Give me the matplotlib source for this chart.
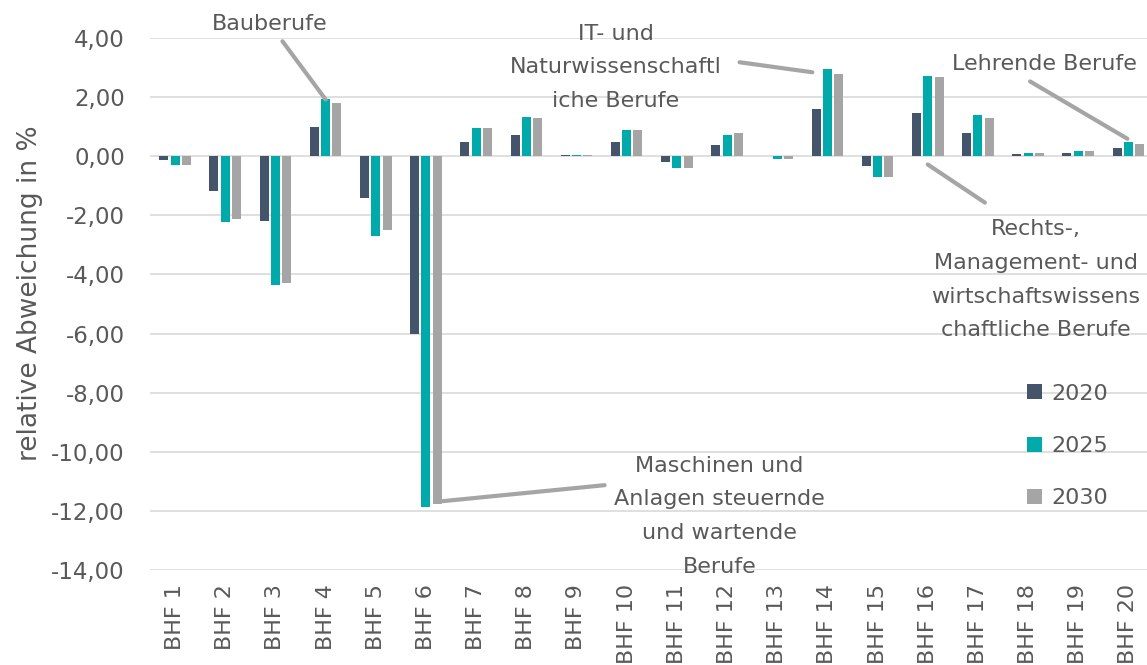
import numpy as np
from matplotlib import pyplot as plt
from matplotlib.ticker import FuncFormatter

categories = ['BHF %d' % i for i in range(1, 21)]
years = ['2020', '2025', '2030']
v2020 = [-0.14, -1.16, -2.19, 0.99, -1.41, -6.01, 0.49, 0.73, 0.05, 0.49,
         -0.19, 0.37, 0.01, 1.60, -0.34, 1.46, 0.79, 0.06, 0.11, 0.27]
v2025 = [-0.29, -2.24, -4.35, 1.92, -2.70, -11.87, 0.94, 1.34, 0.05, 0.89,
         -0.40, 0.72, -0.08, 2.94, -0.70, 2.73, 1.40, 0.11, 0.18, 0.49]
v2030 = [-0.29, -2.14, -4.28, 1.81, -2.50, -11.77, 0.94, 1.30, 0.05, 0.89,
         -0.40, 0.79, -0.08, 2.78, -0.70, 2.68, 1.30, 0.11, 0.17, 0.42]
colors = ['#44546A', '#00A9AA', '#A5A5A5']

plt.rcParams['font.family'] = ['DejaVu Sans']
text_color = '#595959'
line_color = '#A5A5A5'
fs = 16

fig = plt.figure(figsize=(11.47, 6.65), dpi=100)
ax = fig.add_axes([150 / 1147, 1 - 570 / 665, 1 - 150 / 1147, (570 - 38) / 665])

x = np.arange(len(categories))
width = 0.18
step = 0.225
for k, (vals, col, lab) in enumerate(zip([v2020, v2025, v2030], colors, years)):
    ax.bar(x + (k - 1) * step, vals, width, color=col, label=lab, zorder=3)

ax.set_ylim(-14, 4)
ax.set_xlim(-0.5, 19.37)
ax.set_yticks(np.arange(-14, 5, 2))
ax.yaxis.set_major_formatter(FuncFormatter(lambda v, p: ('%.2f' % v).replace('.', ',')))
ax.grid(axis='y', color='#D9D9D9', linewidth=1.2, zorder=0)
for s in ax.spines.values():
    s.set_visible(False)
ax.tick_params(axis='both', length=0, colors=text_color)
ax.tick_params(axis='y', labelsize=16.5, pad=18)
ax.tick_params(axis='x', pad=10)
ax.set_xticks(x)
ax.set_xticklabels(categories, rotation=90, fontsize=fs, va='top')
ax.set_ylabel('relative Abweichung in %', fontsize=19, color=text_color)
ax.yaxis.set_label_coords(-0.107, 0.52)

leg = ax.legend(loc='center left', bbox_to_anchor=(1027 / 1147, 1 - 446 / 665),
                bbox_transform=fig.transFigure, frameon=False, borderpad=0,
                borderaxespad=0, fontsize=fs, handlelength=0.66, handleheight=0.66,
                labelspacing=1.45, handletextpad=0.45)
for t in leg.get_texts():
    t.set_color(text_color)

lw = 3

def label(txt, pos):
    ax.text(pos[0], pos[1], txt, ha='center', va='center', fontsize=fs,
            color=text_color, linespacing=1.85, zorder=5)

def leader(start, end):
    ax.annotate('', xy=end, xytext=start,
                arrowprops=dict(arrowstyle='-', color=line_color, lw=lw,
                                shrinkA=0, shrinkB=0), annotation_clip=False)

# Bauberufe -> BHF 4
label('Bauberufe', (1.88, 4.46))
leader((2.14, 3.89), (3, v2025[3]))

# IT -> BHF 14
label('IT- und\nNaturwissenschaftl\niche Berufe', (8.78, 3.01))
leader((11.25, 3.18), (13 - 0.3, v2025[13] - 0.1))

# Lehrende -> BHF 20
label('Lehrende Berufe', (17.33, 3.11))
leader((17.04, 2.53), (19 - 0.02, v2025[19] + 0.1))

# Rechts -> BHF 16
label('Rechts-,\nManagement- und\nwirtschaftswissens\nchaftliche Berufe', (17.15, -4.18))
leader((15.0, -0.28), (16.14, -1.57))

# Maschinen -> BHF 6
label('Maschinen und\nAnlagen steuernde\nund wartende\nBerufe', (10.85, -12.18))
leader((5 + step * 1.5, v2030[5] + 0.1), (8.56, -11.13))

fig.savefig('out.png', dpi=100)
